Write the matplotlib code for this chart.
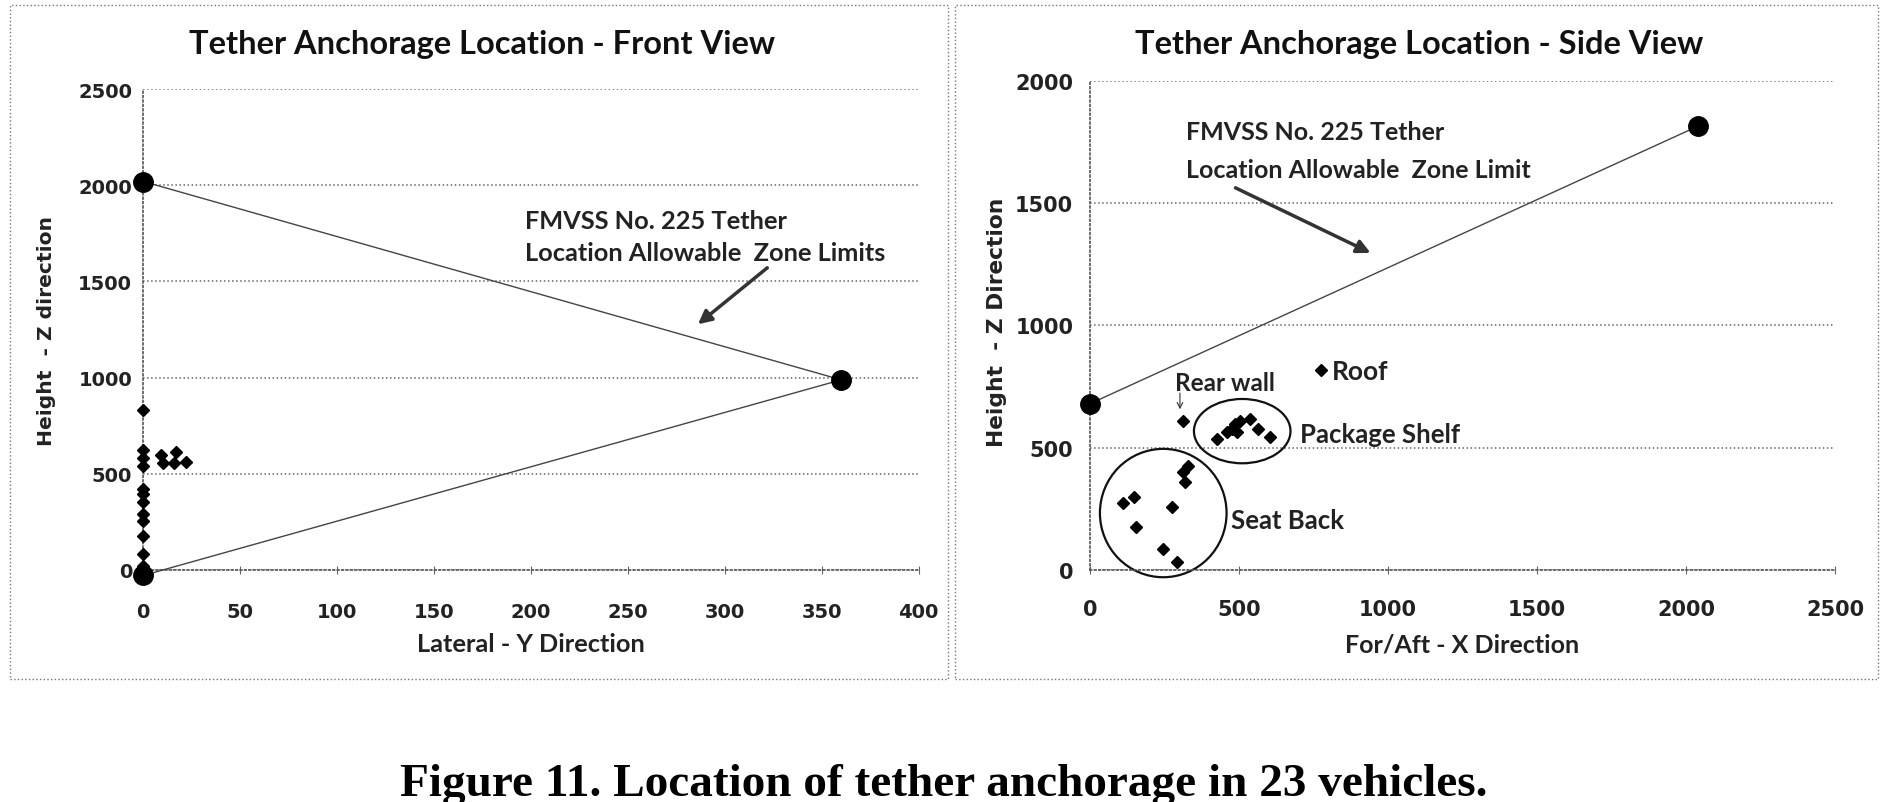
import matplotlib
matplotlib.use("Agg")
import matplotlib.pyplot as plt
from matplotlib.patches import Ellipse, Rectangle

# Front view data (lateral Y vs height Z)
front_y = [0, 0, 0, 0, 0, 0, 0, 0, 0, 0, 0, 0, 9, 10, 17, 16, 22]
front_z = [830, 623, 579, 540, 421, 395, 351, 289, 254, 175, 84, 18, 596, 553, 610, 553, 561]
front_zone_y = [0, 360, 0]
front_zone_z = [2020, 988, -30]

# Side view data (for/aft X vs height Z)
roof_x, roof_z = [775], [820]
rear_x, rear_z = [312], [610]
shelf_x = [425, 459, 476, 487, 503, 492, 537, 565, 604]
shelf_z = [536, 563, 577, 597, 611, 563, 618, 577, 543]
seat_x = [330, 313, 319, 110, 149, 274, 154, 246, 293]
seat_z = [427, 400, 359, 274, 297, 256, 175, 86, 31]
side_zone_x = [0, 2040]
side_zone_z = [680, 1815]

FONT = "Lato"
plt.rcParams["font.family"] = [FONT, "DejaVu Sans"]

fig = plt.figure(figsize=(18.88, 8.03), dpi=100)

# chart borders
for x0, w in [(9.6, 938), (954.8, 923)]:
    fig.patches.append(Rectangle((x0 / 1888, 1 - 680 / 803), w / 1888, 674 / 803,
                                 transform=fig.transFigure, fill=False,
                                 edgecolor="#777777", linestyle=":", linewidth=1))

ax1 = fig.add_axes([0.0759, 0.2893, 0.4107, 0.5983])
ax2 = fig.add_axes([0.5773, 0.2889, 0.3946, 0.609])


def style_axis(ax, ypad, xpad, size):
    for s in ["top", "right"]:
        ax.spines[s].set_visible(False)
    for s in ["left", "bottom"]:
        ax.spines[s].set_linestyle(":")
        ax.spines[s].set_color("#555555")
        ax.spines[s].set_linewidth(1.2)
    ax.grid(axis="y", linestyle=":", color="#666666", linewidth=1.1)
    ax.set_axisbelow(True)
    ax.tick_params(axis="x", direction="inout", length=6, color="#666666",
                   pad=xpad, labelsize=size)
    ax.tick_params(axis="y", length=0, pad=ypad, labelsize=size)
    for lab in ax.get_xticklabels() + ax.get_yticklabels():
        lab.set_fontweight("bold")
        lab.set_family("DejaVu Sans")
        lab.set_color("#222222")


# ---- Front view ----
ax1.plot(front_zone_y, front_zone_z, color="#444444", linewidth=1,
         marker="o", markersize=14, markerfacecolor="black",
         markeredgecolor="black", clip_on=False, zorder=3)
ax1.plot(front_y, front_z, linestyle="none", marker="D", markersize=6,
         color="black", clip_on=False, zorder=4)
ax1.set_xlim(0, 400)
ax1.set_ylim(0, 2500)
ax1.set_xticks(range(0, 401, 50))
ax1.set_yticks(range(0, 2501, 500))
style_axis(ax1, 8, 20, 14)
ax1.text(197, 1816, "FMVSS No. 225 Tether", fontsize=18.3, fontweight="bold",
         va="center", color="#222222")
ax1.text(197, 1648, "Location Allowable  Zone Limits", fontsize=18.3,
         fontweight="bold", va="center", color="#222222")
ax1.annotate("", xy=(285, 1268), xytext=(323, 1580),
             arrowprops=dict(arrowstyle="-|>,head_width=0.4,head_length=0.8",
                             color="#333333", linewidth=2.5))

# ---- Side view ----
ax2.plot(side_zone_x, side_zone_z, color="#444444", linewidth=1,
         marker="o", markersize=14, markerfacecolor="black",
         markeredgecolor="black", clip_on=False, zorder=3)
for xs, zs in [(roof_x, roof_z), (rear_x, rear_z), (shelf_x, shelf_z), (seat_x, seat_z)]:
    ax2.plot(xs, zs, linestyle="none", marker="D", markersize=6,
             color="black", zorder=4)
ax2.add_patch(Ellipse((246, 233), 425, 525, fill=False, edgecolor="#111111",
                      linewidth=1.6, clip_on=False))
ax2.add_patch(Ellipse((511, 568), 324, 263, fill=False, edgecolor="#111111",
                      linewidth=1.6, clip_on=False))
ax2.set_xlim(0, 2500)
ax2.set_ylim(0, 2000)
ax2.set_xticks(range(0, 2501, 500))
ax2.set_yticks(range(0, 2001, 500))
style_axis(ax2, 12, 18, 15)
ax2.text(324, 1793, "FMVSS No. 225 Tether", fontsize=18, fontweight="bold",
         va="center", color="#222222")
ax2.text(324, 1640, "Location Allowable  Zone Limit", fontsize=18,
         fontweight="bold", va="center", color="#222222")
ax2.annotate("", xy=(950, 1292), xytext=(480, 1568),
             arrowprops=dict(arrowstyle="-|>,head_width=0.4,head_length=0.8",
                             color="#333333", linewidth=2.5))
ax2.text(811, 815, "Roof", fontsize=19, fontweight="bold", va="center",
         color="#222222")
ax2.text(285, 765, "Rear wall", fontsize=17.5, fontweight="bold", va="center",
         color="#222222")
ax2.annotate("", xy=(302, 646), xytext=(302, 735),
             arrowprops=dict(arrowstyle="->", color="#333333", linewidth=0.8))
ax2.text(704, 555, "Package Shelf", fontsize=18.5, fontweight="bold",
         va="center", color="#222222")
ax2.text(473, 203, "Seat Back", fontsize=18.5, fontweight="bold", va="center",
         color="#222222")

# titles and axis labels
fig.text(481.6 / 1888, 1 - 44.5 / 803, "Tether Anchorage Location - Front View",
         ha="center", va="center", fontsize=23.5, fontweight="bold", color="#111111")
fig.text(1419.5 / 1888, 1 - 44.5 / 803, "Tether Anchorage Location - Side View",
         ha="center", va="center", fontsize=23.5, fontweight="bold", color="#111111")
fig.text(531 / 1888, 1 - 645 / 803, "Lateral - Y Direction", ha="center",
         va="center", fontsize=18.3, fontweight="bold", color="#222222")
fig.text(1462 / 1888, 1 - 645 / 803, "For/Aft - X Direction", ha="center",
         va="center", fontsize=18, fontweight="bold", color="#222222")
fig.text(47 / 1888, 1 - 331 / 803, "Height  - Z direction", ha="center",
         va="center", rotation=90, fontsize=14.6, fontweight="bold",
         family="DejaVu Sans", color="#222222")
fig.text(997 / 1888, 1 - 322 / 803, "Height  - Z Direction", ha="center",
         va="center", rotation=90, fontsize=15.7, fontweight="bold",
         family="DejaVu Sans", color="#222222")

# caption
fig.text(0.5, 0.022, "Figure 11. Location of tether anchorage in 23 vehicles.",
         ha="center", va="center", fontsize=34, fontweight="bold",
         family="Liberation Serif", color="black")

fig.savefig("out.png", dpi=100)
